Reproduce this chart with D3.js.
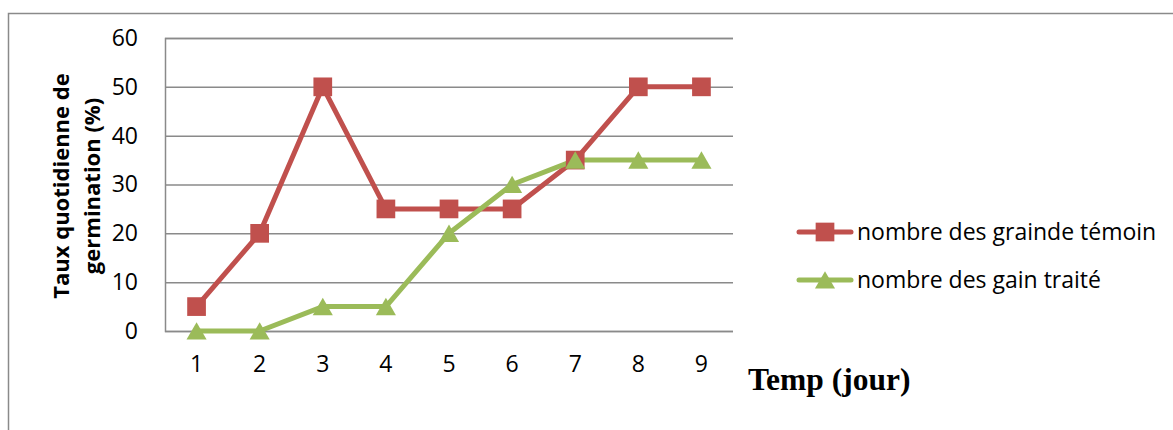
<!DOCTYPE html>
<html>
<head>
<meta charset="utf-8">
<script src="https://cdn.jsdelivr.net/npm/d3@7"></script>
<style>
  html, body { margin: 0; padding: 0; background: #fff; }
  svg { display: block; }
</style>
</head>
<body>
<svg id="chart" width="1173" height="430"></svg>
<script>
// Daily germination rate over nine days
const days = [1, 2, 3, 4, 5, 6, 7, 8, 9];
const temoinValues = [5, 20, 50, 25, 25, 25, 35, 50, 50];
const traiteValues = [0, 0, 5, 5, 20, 30, 35, 35, 35];
const yTicks = [0, 10, 20, 30, 40, 50, 60];
const seriesNames = ["nombre des grainde témoin", "nombre des gain traité"];

const red = "#C0504D";
const green = "#9BBB59";
const gridColor = "#8a8a8a";
const sansFont = "'Open Sans', 'Noto Sans', sans-serif";

const svg = d3.select("#chart");

// outer chart frame
svg.append("rect")
  .attr("x", 8.5).attr("y", 13.5)
  .attr("width", 1180).attr("height", 440)
  .attr("fill", "none").attr("stroke", gridColor).attr("stroke-width", 1.5);

const plot = { left: 165, right: 733, top: 38, bottom: 331 };

const x = d3.scaleBand().domain(days).range([plot.left, plot.right]);
const y = d3.scaleLinear().domain([0, 60]).range([plot.bottom, plot.top]);

// horizontal gridlines with value labels
const yAxis = d3.axisLeft(y)
  .tickValues(yTicks)
  .tickSize(-(plot.right - plot.left))
  .tickPadding(27)
  .tickFormat(d3.format("d"));
const gy = svg.append("g").attr("transform", `translate(${plot.left},0)`).call(yAxis);
gy.select(".domain").attr("stroke", gridColor).attr("stroke-width", 1.5);
gy.selectAll(".tick line").attr("stroke", gridColor).attr("stroke-width", 1.5);
gy.selectAll(".tick text")
  .attr("fill", "#000")
  .style("font-family", sansFont)
  .style("font-size", "23px");

// category labels along the bottom
const xAxis = d3.axisBottom(x).tickSize(0).tickPadding(25);
const gx = svg.append("g").attr("transform", `translate(0,${plot.bottom})`).call(xAxis);
gx.select(".domain").remove();
gx.selectAll(".tick text")
  .attr("fill", "#000")
  .style("font-family", sansFont)
  .style("font-size", "23px");

const cx = d => x(d) + x.bandwidth() / 2;

const line = d3.line().x((d, i) => cx(days[i])).y(d => y(d));

// series lines
svg.append("path").datum(temoinValues)
  .attr("d", line).attr("fill", "none")
  .attr("stroke", red).attr("stroke-width", 5).attr("stroke-linejoin", "round");
svg.append("path").datum(traiteValues)
  .attr("d", line).attr("fill", "none")
  .attr("stroke", green).attr("stroke-width", 5).attr("stroke-linejoin", "round");

// markers
const squareSym = d3.symbol().type(d3.symbolSquare).size(350);
const triSym = d3.symbol().type(d3.symbolTriangle).size(175);
const triShift = 2.8; // centre the triangle's box on the value

svg.append("g").selectAll("path")
  .data(temoinValues)
  .join("path")
  .attr("d", squareSym)
  .attr("transform", (d, i) => `translate(${cx(days[i])},${y(d)})`)
  .attr("fill", red);

svg.append("g").selectAll("path")
  .data(traiteValues)
  .join("path")
  .attr("d", triSym)
  .attr("transform", (d, i) => `translate(${cx(days[i])},${y(d) + triShift})`)
  .attr("fill", green);

// y-axis title (two lines, rotated)
const yTitle = svg.append("text")
  .attr("transform", "translate(0,186) rotate(-90)")
  .attr("text-anchor", "middle")
  .style("font-family", sansFont)
  .style("font-size", "22px")
  .style("font-weight", "bold")
  .attr("fill", "#000");
yTitle.append("tspan").attr("x", 0).attr("y", 69).text("Taux quotidienne de");
yTitle.append("tspan").attr("x", 0).attr("y", 100).text("germination (%)");

// x-axis title
svg.append("text")
  .attr("x", 748).attr("y", 390)
  .style("font-family", "'Liberation Serif', 'Times New Roman', serif")
  .style("font-size", "31.5px")
  .style("font-weight", "bold")
  .attr("fill", "#000")
  .text("Temp (jour)");

// legend
const legend = svg.append("g");
const legendItems = [
  { name: seriesNames[0], color: red, sym: squareSym, y: 232, dy: 0 },
  { name: seriesNames[1], color: green, sym: triSym, y: 280, dy: triShift }
];
legendItems.forEach(item => {
  legend.append("line")
    .attr("x1", 799).attr("x2", 851)
    .attr("y1", item.y).attr("y2", item.y)
    .attr("stroke", item.color).attr("stroke-width", 5).attr("stroke-linecap", "round");
  legend.append("path")
    .attr("d", item.sym)
    .attr("transform", `translate(825,${item.y + item.dy})`)
    .attr("fill", item.color);
  legend.append("text")
    .attr("x", 857).attr("y", item.y)
    .attr("dy", "0.35em")
    .style("font-family", sansFont)
    .style("font-size", "23px")
    .attr("fill", "#000")
    .text(item.name);
});
</script>
</body>
</html>
